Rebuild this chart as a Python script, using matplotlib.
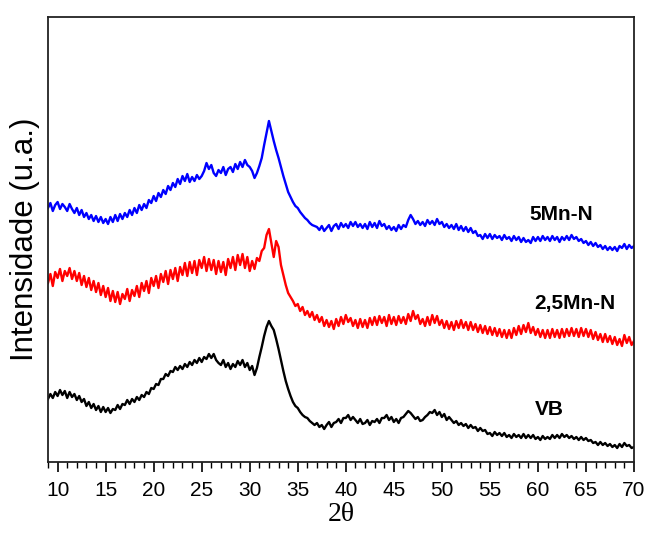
import numpy as np
import matplotlib
matplotlib.use("Agg")
import matplotlib.pyplot as plt
from matplotlib.ticker import MultipleLocator

# 2theta grid, 0.25 deg steps from 9 to 70
two_theta = np.arange(9, 70.001, 0.25)

# intensities (a.u.), 4 points per degree
mn5_n = [
    325, 330, 322, 328, 331, 324, 329, 326,   # 9-10
    322, 329, 324, 320, 325, 318, 323, 316,   # 11-12
    320, 314, 318, 312, 317, 311, 316, 310,   # 13-14
    314, 309, 316, 311, 318, 312, 319, 314,   # 15-16
    320, 316, 323, 318, 325, 320, 328, 323,   # 17-18
    329, 325, 333, 330, 337, 332, 340, 336,   # 19-20
    343, 339, 347, 343, 350, 346, 354, 349,   # 21-22
    357, 352, 359, 351, 356, 352, 358, 354,   # 23-24
    357, 362, 370, 364, 368, 360, 357, 363,   # 25-26
    360, 366, 358, 364, 366, 361, 369, 364,   # 27-28
    371, 366, 373, 368, 366, 362, 355, 360,   # 29-30
    367, 375, 388, 400, 412, 402, 392, 383,   # 31-32
    375, 366, 357, 349, 341, 336, 331, 327,   # 33-34
    325, 321, 318, 315, 313, 310, 308, 307,   # 35-36
    306, 303, 307, 302, 305, 308, 302, 307,   # 37-38
    309, 304, 310, 306, 309, 305, 311, 307,   # 39-40
    311, 306, 309, 305, 309, 304, 311, 306,   # 41-42
    310, 305, 312, 307, 309, 304, 307, 303,   # 43-44
    306, 302, 308, 304, 308, 306, 313, 318,   # 45-46
    314, 309, 312, 308, 311, 307, 313, 309,   # 47-48
    312, 308, 314, 309, 311, 306, 309, 305,   # 49-50
    308, 304, 309, 303, 307, 302, 306, 301,   # 51-52
    305, 300, 302, 297, 298, 294, 299, 295,   # 53-54
    299, 294, 298, 295, 297, 293, 298, 294,   # 55-56
    296, 292, 297, 293, 296, 291, 295, 291,   # 57-58
    293, 290, 296, 292, 296, 292, 297, 293,   # 59-60
    296, 292, 297, 293, 296, 291, 296, 293,   # 61-62
    297, 293, 298, 294, 296, 292, 294, 290,   # 63-64
    292, 288, 291, 287, 290, 286, 288, 284,   # 65-66
    287, 283, 286, 283, 286, 282, 287, 285,   # 67-68
    289, 284, 288, 285, 287,                  # 69-70
]

mn25_n = [
    250, 259, 247, 261, 255, 264, 252, 262,   # 9-10
    257, 265, 254, 262, 252, 260, 248, 257,   # 11-12
    246, 255, 243, 252, 241, 250, 238, 247,   # 13-14
    236, 245, 232, 242, 231, 241, 229, 239,   # 15-16
    234, 244, 232, 243, 237, 247, 236, 250,   # 17-18
    242, 252, 240, 255, 247, 257, 245, 259,   # 19-20
    251, 262, 249, 263, 254, 265, 252, 266,   # 21-22
    258, 270, 257, 271, 260, 272, 258, 273,   # 23-24
    265, 276, 262, 274, 263, 273, 259, 272,   # 25-26
    261, 271, 258, 274, 265, 276, 263, 278,   # 27-28
    268, 279, 265, 276, 262, 272, 264, 275,   # 29-30
    272, 282, 285, 298, 304, 290, 276, 292,   # 31-32
    286, 268, 258, 248, 240, 236, 232, 227,   # 33-34
    229, 222, 226, 218, 222, 216, 221, 213,   # 35-36
    218, 211, 216, 207, 213, 206, 212, 204,   # 37-38
    214, 207, 216, 209, 218, 211, 215, 207,   # 39-40
    213, 205, 214, 206, 213, 205, 215, 208,   # 41-42
    216, 208, 217, 210, 216, 207, 218, 209,   # 43-44
    216, 208, 217, 210, 216, 209, 219, 212,   # 45-46
    222, 214, 218, 209, 214, 207, 216, 208,   # 47-48
    218, 210, 217, 208, 213, 205, 212, 204,   # 49-50
    211, 203, 212, 205, 213, 205, 211, 203,   # 51-52
    211, 203, 209, 201, 208, 200, 207, 199,   # 53-54
    206, 198, 205, 197, 204, 196, 203, 195,   # 55-56
    203, 195, 205, 198, 207, 199, 208, 201,   # 57-58
    210, 200, 206, 198, 204, 196, 203, 195,   # 59-60
    203, 195, 204, 196, 203, 195, 204, 196,   # 61-62
    204, 197, 205, 197, 204, 196, 205, 197,   # 63-64
    204, 196, 203, 194, 201, 193, 199, 191,   # 65-66
    199, 191, 197, 189, 196, 188, 194, 187,   # 67-68
    198, 190, 196, 188, 192,                  # 69-70
]

vb = [
    134, 139, 135, 141, 137, 143, 138, 142,   # 9-10
    135, 141, 136, 139, 133, 137, 131, 134,   # 11-12
    127, 131, 125, 129, 123, 127, 121, 126,   # 13-14
    121, 125, 120, 124, 123, 128, 124, 129,   # 15-16
    128, 133, 129, 134, 131, 136, 133, 138,   # 17-18
    136, 141, 139, 145, 144, 149, 148, 154,   # 19-20
    154, 159, 157, 162, 161, 166, 163, 167,   # 21-22
    164, 169, 166, 171, 168, 173, 170, 175,   # 23-24
    171, 176, 174, 179, 175, 179, 173, 170,   # 25-26
    168, 173, 166, 170, 164, 169, 166, 172,   # 27-28
    168, 173, 166, 170, 163, 167, 158, 165,   # 29-30
    176, 186, 197, 206, 212, 207, 203, 194,   # 31-32
    184, 173, 162, 152, 144, 137, 131, 127,   # 33-34
    125, 121, 118, 116, 115, 112, 110, 108,   # 35-36
    110, 106, 108, 104, 108, 111, 106, 110,   # 37-38
    111, 114, 110, 115, 115, 118, 113, 116,   # 39-40
    113, 110, 114, 109, 110, 113, 108, 112,   # 41-42
    111, 114, 110, 115, 115, 118, 113, 116,   # 43-44
    111, 114, 110, 115, 116, 119, 122, 120,   # 45-46
    117, 114, 116, 112, 113, 116, 118, 121,   # 47-48
    120, 123, 118, 121, 116, 119, 113, 116,   # 49-50
    113, 110, 112, 108, 110, 107, 109, 105,   # 51-52
    108, 105, 106, 102, 105, 102, 103, 99,    # 53-54
    100, 97, 101, 98, 100, 97, 100, 96,       # 55-56
    98, 95, 99, 96, 98, 95, 99, 95,           # 57-58
    98, 95, 98, 94, 96, 93, 97, 94,           # 59-60
    96, 94, 98, 95, 98, 95, 99, 96,           # 61-62
    98, 95, 97, 94, 96, 93, 96, 93,           # 63-64
    95, 92, 93, 90, 91, 88, 91, 88,           # 65-66
    90, 87, 89, 86, 88, 85, 89, 86,           # 67-68
    90, 87, 88, 85, 86,                       # 69-70
]

labels = ["5Mn-N", "2,5Mn-N", "VB"]
label_pos = [(62.4, 319), (63.8, 230), (61.2, 124)]
colors = ["#0000ff", "#ff0000", "#000000"]

fig = plt.figure(figsize=(6.46, 5.33), dpi=100)
ax = fig.add_axes([0.0743, 0.1332, 0.9071, 0.8349])

for ys, c in zip([mn5_n, mn25_n, vb], colors):
    ax.plot(two_theta, ys, color=c, lw=1.7)

for txt, (lx, ly) in zip(labels, label_pos):
    ax.text(lx, ly, txt, ha="center", va="center", fontsize=15,
            fontweight="bold", family="Liberation Sans")

ax.set_xlim(9, 70)
ax.set_ylim(71, 516)
ax.xaxis.set_major_locator(MultipleLocator(5))
ax.xaxis.set_minor_locator(MultipleLocator(1))
ax.tick_params(axis="x", which="major", direction="out", length=7, width=1.2,
               labelsize=15, pad=7)
ax.tick_params(axis="x", which="minor", direction="out", length=4, width=1.0)
ax.set_yticks([])
for lab in ax.get_xticklabels():
    lab.set_family("Liberation Sans")
for s in ax.spines.values():
    s.set_linewidth(1.3)
    s.set_color("#222222")

ax.set_ylabel("Intensidade (u.a.)", fontsize=22.5, family="Liberation Sans", labelpad=6)
ax.set_xlabel("2θ", fontsize=20, family="Liberation Serif", labelpad=1)

fig.savefig("out.png", dpi=100)
